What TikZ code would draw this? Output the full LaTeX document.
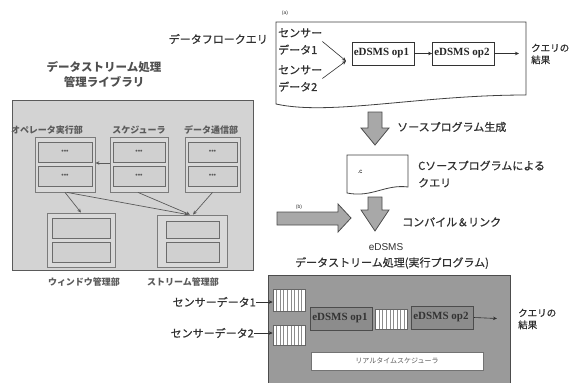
\documentclass[tikz,border=0pt]{standalone}
\usepackage{fontspec}
\newfontfamily\jp{Noto Sans CJK JP}
\newfontfamily\jpm[FakeBold=0.6]{Noto Sans CJK JP}
\newfontfamily\tms{Liberation Serif}
\newfontfamily\ars{Liberation Sans}
\usetikzlibrary{arrows.meta,calc}
\definecolor{libfill}{HTML}{D3D3D3}
\definecolor{libline}{HTML}{5A5A5A}
\definecolor{unitfill}{HTML}{D9D9D9}
\definecolor{cellfill}{HTML}{D0D0D0}
\definecolor{rtfill}{HTML}{9A9A9A}
\definecolor{opfill}{HTML}{8C8C8C}
\definecolor{bigarrow}{HTML}{A8A8A8}
\definecolor{txt}{HTML}{303030}
\tikzset{
  jtext/.style={font=\jpm\fontsize{11}{17}\selectfont, text=txt, inner sep=0pt},
  jsmall/.style={font=\jp\bfseries\fontsize{9}{11}\selectfont, text=txt!80, inner sep=0pt},
  unitbox/.style={draw=libline!80, fill=unitfill, line width=0.8pt, minimum width=#1, minimum height=55pt, inner sep=0pt},
  cellbox/.style={draw=libline!90, fill=cellfill, line width=0.8pt, minimum width=#1, minimum height=20pt, inner sep=0pt, font=\ars\fontsize{7}{7}\selectfont, text=txt!80},
  libarr/.style={draw=libline, line width=0.7pt, -{Stealth[length=4pt,width=3.5pt]}},
  thinarr/.style={draw=txt, line width=0.6pt, -{Stealth[length=4pt,width=3.5pt]}},
  opbox/.style={draw=black!80, fill=white, line width=0.8pt, minimum width=62pt, minimum height=23pt, inner sep=0pt},
  optext/.style={font=\tms\bfseries\fontsize{11}{11}\selectfont, inner sep=0pt, text=black!85},
  rtop/.style={draw=black!70, fill=opfill, line width=0.8pt, minimum width=62pt, minimum height=23pt, inner sep=0pt},
  bufbox/.style={draw=black!60, fill=white, line width=0.6pt, minimum width=32pt, minimum height=#1, inner sep=0pt,
    path picture={\foreach \i in {1,...,8}{\draw[black!45, line width=0.4pt]
      ($(path picture bounding box.south west)!\i/9!(path picture bounding box.south east)$) --
      ($(path picture bounding box.north west)!\i/9!(path picture bounding box.north east)$);}}},
  bigarr/.style={draw=black!70, fill=bigarrow, line width=0.8pt, line join=miter},
  tag/.style={font=\ars\fontsize{5}{5}\selectfont, inner sep=0pt, text=txt}
}
\begin{document}
\begin{tikzpicture}[x=1pt,y=-1pt]
\useasboundingbox (0,0) rectangle (571,383);

% ---------- (a) flow query ----------
\node[tag] (taga) at (285,13) {(a)};
\node[jtext, anchor=east] (dfq) at (268,39) {データフロークエリ};
\draw[black!75, line width=0.8pt, fill=white] (276,22) -- (526,22) -- (526,95)
  .. controls (420,95) and (330,116) .. (276,104) -- cycle;
\node[jtext, anchor=west, align=left] (s1) at (278,41.5) {センサー\\データ1};
\node[jtext, anchor=west, align=left] (s2) at (278,78.5) {センサー\\データ2};
\node[opbox] (op1) at (383,53.5) {};
\node[optext, anchor=west] (op1t) at ($(op1.west)+(2,0)$) {eDSMS op1};
\node[opbox] (op2) at (463.5,53.5) {};
\node[optext, anchor=west] (op2t) at ($(op2.west)+(2,0)$) {eDSMS op2};
\coordinate (merge) at (346,61);
\draw[thinarr] (s1.east) -- (merge);
\draw[thinarr] (s2.east) -- (merge);
\draw[thinarr] (op1) -- (op2);
\coordinate (res1) at (519,53.5);
\draw[thinarr] (op2) -- (res1);
\node[jtext, font=\jpm\fontsize{9.5}{12}\selectfont, anchor=west, align=left] (q1) at (531,54) {クエリの\\結果};

% ---------- library ----------
\node[font=\jp\bfseries\fontsize{11.5}{15}\selectfont, text=txt!85, align=center, inner sep=0pt] (libtitle) at (104,75) {データストリーム処理\\管理ライブラリ};
\node[draw=libline, fill=libfill, line width=1pt, minimum width=241pt, minimum height=170pt, inner sep=0pt] (lib) at (132.5,185) {};
\node[jsmall] (lopx) at (47,130) {オペレータ実行部};
\node[jsmall] (lsch) at (139,130) {スケジューラ};
\node[jsmall] (ldc) at (211,130) {データ通信部};
\node[unitbox=60pt] (opx) at (65,164.5) {};
\node[cellbox=54pt] (opxa) at (65,152) {•••};
\node[cellbox=54pt] (opxb) at (65,176) {•••};
\node[unitbox=58pt] (sch) at (139,164.5) {};
\node[cellbox=52pt] (scha) at (139,152) {•••};
\node[cellbox=52pt] (schb) at (139,176) {•••};
\node[unitbox=55pt] (dc) at (212.5,164.5) {};
\node[cellbox=49pt] (dca) at (212.5,152) {•••};
\node[cellbox=49pt] (dcb) at (212.5,176) {•••};
\node[unitbox=68pt, minimum height=54pt] (win) at (81,240) {};
\node[cellbox=58pt] (wina) at (81,228) {};
\node[cellbox=58pt] (winb) at (81,252) {};
\node[unitbox=70pt, minimum height=52pt] (str) at (192,241) {};
\node[cellbox=53pt, minimum height=17pt] (stra) at (193,230) {};
\node[cellbox=53pt] (strb) at (193,252) {};
\node[jsmall] (lwin) at (84,282) {ウィンドウ管理部};
\node[jsmall] (lstr) at (183,282) {ストリーム管理部};
\draw[libarr] ($(sch.west)+(0,-1.5)$) -- ($(opx.east)+(0,-1.5)$);
\draw[libarr] ($(opx.south)+(0,0)$) -- ($(win.north)+(0,0)$);
\draw[libarr] ($(opx.south)+(2,0)$) -- ($(str.north)+(-4,0)$);
\draw[libarr] ($(sch.south)+(-1,0)$) -- ($(str.north)+(-2,0)$);
\draw[libarr] ($(dc.south)+(0,0)$) -- ($(str.north)+(1,0)$);

% ---------- middle arrows ----------
\path[bigarr] (368,112) -- (382,112) -- (382,128) -- (389,128) -- (375,145) -- (361,128) -- (368,128) -- cycle;
\node[jtext, anchor=west] (gen) at (397,127) {ソースプログラム生成};
\draw[black!75, line width=0.8pt, fill=white] (347,155) -- (408,155) -- (408,187)
  .. controls (385,184) and (372,198) .. (347,193) -- cycle;
\node[font=\ars\fontsize{6}{6}\selectfont, inner sep=0pt] (dotc) at (360,172) {.c};
\node[jtext, anchor=west, align=left] (cq) at (418,174) {Cソースプログラムによる\\クエリ};
\path[bigarr] (368,197) -- (382,197) -- (382,210) -- (389,210) -- (375,231) -- (361,210) -- (368,210) -- cycle;
\node[jtext, anchor=west] (comp) at (402,222) {コンパイル＆リンク};
\node[tag] (tagb) at (299,207) {(b)};
\path[bigarr] (277,212) -- (338,212) -- (338,204) -- (351,218) -- (338,232) -- (338,225) -- (277,225) -- cycle;

% ---------- runtime ----------
\node[font=\ars\fontsize{10}{10}\selectfont, inner sep=0pt, text=txt] (edsms) at (386,247) {eDSMS};
\node[jtext] (rttitle) at (392,263) {データストリーム処理(実行プログラム)};
\draw[draw=black!70, fill=rtfill, line width=1pt] (268,275) rectangle (510,392);
\node[bufbox=22pt] (b1) at (289,300) {};
\node[bufbox=20pt] (b2) at (289,335) {};
\node[bufbox=20pt] (b3) at (391.5,319) {};
\node[rtop] (r1) at (341.5,318.5) {};
\node[optext, anchor=west, text=black!80] (r1t) at ($(r1.west)+(2,0)$) {eDSMS op1};
\node[rtop] (r2) at (442.5,317.5) {};
\node[optext, anchor=west, text=black!80] (r2t) at ($(r2.west)+(2,0)$) {eDSMS op2};
\node[jtext, anchor=east] (rs1) at (256,302) {センサーデータ1};
\node[jtext, anchor=east] (rs2) at (254,333) {センサーデータ2};
\draw[thinarr] (rs1.east) -- (b1.west |- rs1.east);
\draw[thinarr] (rs2.east) -- (b2.west |- rs2.east);
\coordinate (res2) at (497,318.5);
\draw[thinarr] (r2.east) -- (res2);
\node[jtext, font=\jpm\fontsize{9.5}{12}\selectfont, anchor=west, align=left] (q2) at (518,319) {クエリの\\結果};
\node[draw=black!55, fill=white, line width=0.6pt, minimum width=172pt, minimum height=18pt, inner sep=0pt,
  font=\jp\fontsize{7}{7}\selectfont, text=txt!80] (rts) at (397,361) {リアルタイムスケジューラ};
\end{tikzpicture}
\end{document}
